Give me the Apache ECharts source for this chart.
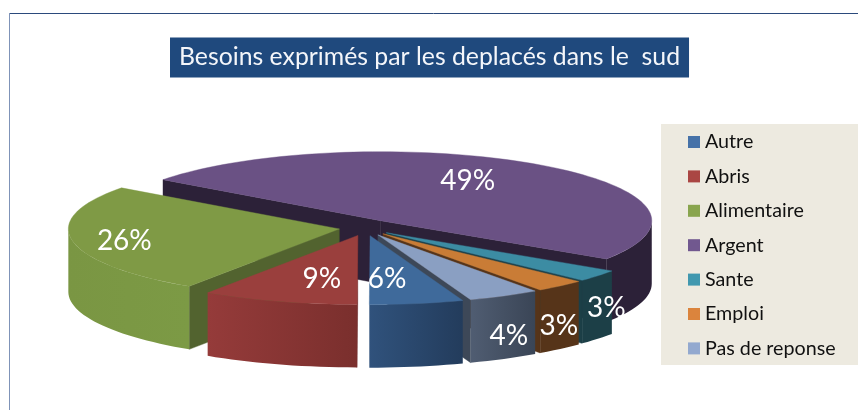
<!DOCTYPE html>
<html>
<head>
<meta charset="utf-8">
<style>html,body{margin:0;padding:0;background:#fff}#c{width:858px;height:410px}</style>
<script src="https://cdn.jsdelivr.net/npm/echarts@6/dist/echarts.min.js"></script>
</head>
<body>
<div id="c"></div>
<script>
var titleText = 'Besoins exprimés par les deplacés dans le  sud';
var categories = ['Autre', 'Abris', 'Alimentaire', 'Argent', 'Sante', 'Emploi', 'Pas de reponse'];
var percents = [5.6, 9.3, 25.8, 49.2, 2.8, 3.0, 4.3];
var legendColors = ['#4672a8', '#aa4643', '#89a54e', '#71588f', '#4198af', '#db843d', '#93a9cf'];
var topColors = ['#3f6a9b', '#9a3f3d', '#7f9a45', '#6a5184', '#3c8ca3', '#c97c36', '#8a9fc2'];
var faceColors = ['#2a4868', '#6f2c2a', '#52632f', '#2c2138', '#1c3f47', '#563419', '#3d4858'];
var wallFrom = ['#30527c', '#953b3a', '#7a9643', '#2c2138', '#1c3f47', '#563419', '#505d72'];
var wallTo = ['#233c5c', '#7a2f2d', '#7c9a45', '#2c2138', '#1c3f47', '#563419', '#3a4556'];
var paintRank = [6, 7, 2, 1, 3, 4, 5];
var labelOffsets = [[17, 43], [-36, 44], [-215, 12], [87, -40], [220, 75], [176, 92], [131, 101]];

var CX = 365.5, CY = 227.5, RX = 271, RY = 69, DEPTH = 63, EXPLODE_X = 0.098, EXPLODE_Y = 0.12, START_DEG = 70;

var total = percents.reduce(function (a, b) { return a + b; }, 0);
var rad = Math.PI / 180;

function sliceAngles(idx) {
  var before = 0;
  for (var i = 0; i < idx; i++) before += percents[i];
  var a0 = START_DEG + before / total * 360;
  return [a0, a0 + percents[idx] / total * 360];
}
function arcPts(ax, ay, a0, a1, dy) {
  var pts = [], n = Math.max(2, Math.ceil((a1 - a0) / 2));
  for (var i = 0; i <= n; i++) {
    var a = (a0 + (a1 - a0) * i / n) * rad;
    pts.push([ax + RX * Math.cos(a), ay + RY * Math.sin(a) + dy]);
  }
  return pts;
}
function poly(points, fill, z2) {
  return { type: 'polygon', z2: z2, shape: { points: points }, style: { fill: fill, stroke: typeof fill === 'string' ? fill : null, lineWidth: 0.4 } };
}
function renderSlice(idx) {
  return function (params, api) {
    var value = api.value(0);
    var ang = sliceAngles(idx), a0 = ang[0], a1 = ang[1];
    var mid = (a0 + a1) / 2 * rad;
    var ax = CX + EXPLODE_X * RX * Math.cos(mid);
    var ay = CY + EXPLODE_Y * RY * Math.sin(mid);
    var kids = [];
    function face(a) {
      var r = a * rad;
      var px = ax + RX * Math.cos(r), py = ay + RY * Math.sin(r);
      kids.push(poly([[ax, ay], [px, py], [px, py + DEPTH], [ax, ay + DEPTH]], faceColors[idx], 1));
    }
    if (Math.cos(a0 * rad) < -1e-6) face(a0);
    if (Math.cos(a1 * rad) > 1e-6) face(a1);
    [[0, 180], [360, 540]].forEach(function (w) {
      var s = Math.max(a0, w[0]), e = Math.min(a1, w[1]);
      if (e > s) {
        var topArc = arcPts(ax, ay, s, e, 0);
        var botArc = arcPts(ax, ay, s, e, DEPTH).reverse();
        var xs = topArc.map(function (p) { return p[0]; });
        var x0 = Math.min.apply(null, xs), x1 = Math.max.apply(null, xs);
        var grad = { type: 'linear', x: x0, y: 0, x2: x1, y2: 0, global: true,
          colorStops: [{ offset: 0, color: wallFrom[idx] }, { offset: 1, color: wallTo[idx] }] };
        kids.push(poly(topArc.concat(botArc), grad, 2));
      }
    });
    kids.push(poly([[ax, ay]].concat(arcPts(ax, ay, a0, a1, 0)), topColors[idx], 3));
    kids.push({ type: 'text', z2: 10, style: {
      x: ax + labelOffsets[idx][0], y: ay + labelOffsets[idx][1],
      text: Math.round(value) + '%', fill: '#fff', font: '28px Lato', align: 'center', verticalAlign: 'middle' } });
    return { type: 'group', children: kids };
  };
}

var chart = echarts.init(document.getElementById('c'), null, { renderer: 'canvas' });
chart.setOption({
  animation: false,
  title: { text: titleText, left: 170, top: 38, backgroundColor: '#1f497d', padding: [7.5, 9, 7.5, 9],
    textStyle: { color: '#f4f6fa', fontFamily: 'Lato', fontSize: 24.8, fontWeight: 'normal', lineHeight: 24 } },
  legend: { orient: 'vertical', left: 683, top: 127, itemWidth: 12, itemHeight: 12, itemGap: 14.4,
    icon: 'rect', data: categories,
    textStyle: { fontFamily: 'Lato', fontSize: 19.7, color: '#111', lineHeight: 20 } },
  graphic: [
    { type: 'line', silent: true, z: 0, shape: { x1: 9, y1: 13.5, x2: 858, y2: 13.5 }, style: { stroke: '#2b4a7c', lineWidth: 1 } },
    { type: 'line', silent: true, z: 0, shape: { x1: 9.5, y1: 13, x2: 9.5, y2: 410 }, style: { stroke: '#7f93b8', lineWidth: 1 } },
    { type: 'rect', silent: true, z: 0, shape: { x: 661, y: 124, width: 197, height: 241 }, style: { fill: '#edeae0' } }
  ],
  series: categories.map(function (name, i) {
    return { type: 'custom', name: name, coordinateSystem: 'none', z: 2 + paintRank[i] / 10,
      itemStyle: { color: legendColors[i] }, data: [[percents[i]]], renderItem: renderSlice(i), silent: true };
  })
});
</script>
</body>
</html>
